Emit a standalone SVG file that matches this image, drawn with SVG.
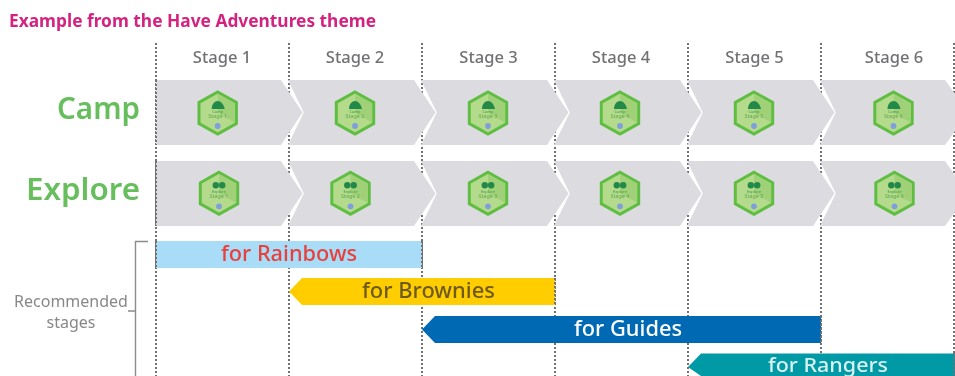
<svg xmlns="http://www.w3.org/2000/svg" width="955" height="376" viewBox="0 0 955 376">
<defs>
<filter id="soft" x="-5%" y="-5%" width="110%" height="110%"><feGaussianBlur stdDeviation="0.5"/></filter>
<g id="badge">
<polygon points="0,-21 18.700,-10.500 18.700,10.500 0,21 -18.700,10.500 -18.700,-10.500" fill="#b4da8c" stroke="#5fbe43" stroke-width="3"/>
<polygon points="0,-19 17,-9.500 17,9.500 0,0" fill="#a0d178"/>
<circle cx="0" cy="13" r="2.900" fill="#7f9fdc"/>
</g>
<path id="tent" d="M-6,-4 C-6,-9 -3,-12 0,-12 C3,-12 6,-9 7,-4 Z" fill="#23894a"/>
<g id="bino"><circle cx="-3.200" cy="-8" r="3.200" fill="#23894a"/><circle cx="3.200" cy="-8" r="3.200" fill="#23894a"/></g>
</defs>
<style>
text{font-family:"Noto Sans","Open Sans","DejaVu Sans",sans-serif}
.grid{stroke:#717171;stroke-width:2;stroke-dasharray:2 2;fill:none}
.arrow{fill:#dcdbe0}
.stage{font-size:16.5px;font-weight:500;fill:#717174;text-anchor:middle}
.row{font-size:31px;font-weight:600;fill:#66bf5c;text-anchor:end}
.bar{font-size:21px;font-weight:500;text-anchor:middle}
.tiny{font-size:4px;fill:#3f9a45;text-anchor:middle}
.tiny2{font-size:5.400px;fill:#63a850;text-anchor:middle}
.rec{font-size:16px;fill:#88888a;text-anchor:middle}
</style>
<g filter="url(#soft)">
<rect width="955" height="376" fill="#fff"/>
<text id="title" x="9" y="27" font-size="17.5" font-weight="700" fill="#d3247f" textLength="367" lengthAdjust="spacingAndGlyphs">Example from the Have Adventures theme</text>
<g id="connectors">
<path class="grid" d="M156 43V376M289 43V376M422 43V376M555 43V376M688 43V376M821 43V376M954 43V376"/>
<path id="bracket" d="M148 241.500H135.500V376M128 311H135.500" fill="none" stroke="#8c8c8c" stroke-width="1.400"/>
</g>
<g id="stages">
<text class="stage" x="222" y="63">Stage 1</text>
<text class="stage" x="355" y="63">Stage 2</text>
<text class="stage" x="488.500" y="63">Stage 3</text>
<text class="stage" x="621" y="63">Stage 4</text>
<text class="stage" x="754.500" y="63">Stage 5</text>
<text class="stage" x="894" y="63">Stage 6</text>
</g>
<text id="camp-label" class="row" x="140" y="119" textLength="83" lengthAdjust="spacingAndGlyphs">Camp</text>
<text id="explore-label" class="row" x="140" y="199.500" textLength="114" lengthAdjust="spacingAndGlyphs">Explore</text>
<g id="camp-row">
<polygon class="arrow" points="156,80 281,80 302.500,112.500 281,145 156,145"/>
<polygon class="arrow" points="288,80 414,80 435.500,112.500 414,145 288,145 303.800,112.500"/>
<polygon class="arrow" points="421,80 547,80 568.500,112.500 547,145 421,145 436.800,112.500"/>
<polygon class="arrow" points="554,80 680,80 701.500,112.500 680,145 554,145 569.800,112.500"/>
<polygon class="arrow" points="687,80 813,80 834.500,112.500 813,145 687,145 702.800,112.500"/>
<polygon class="arrow" points="820,80 945,80 955,94 955,131 945,145 820,145 835.800,112.500"/>
</g>
<g id="explore-row">
<polygon class="arrow" points="156,161 281,161 302.500,193.500 281,226 156,226"/>
<polygon class="arrow" points="288,161 414,161 435.500,193.500 414,226 288,226 303.800,193.500"/>
<polygon class="arrow" points="421,161 547,161 568.500,193.500 547,226 421,226 436.800,193.500"/>
<polygon class="arrow" points="554,161 680,161 701.500,193.500 680,226 554,226 569.800,193.500"/>
<polygon class="arrow" points="687,161 813,161 834.500,193.500 813,226 687,226 702.800,193.500"/>
<polygon class="arrow" points="820,161 945,161 955,175 955,212 945,226 820,226 835.800,193.500"/>
</g>
<path class="grid" d="M156 80V145M156 161V226"/>
<g id="camp-badge-1" transform="translate(217.700,113)"><use href="#badge"/><use href="#tent"/><text class="tiny" y="0">Camp</text><text class="tiny2" y="5">Stage 1</text></g>
<g id="camp-badge-2" transform="translate(355,113)"><use href="#badge"/><use href="#tent"/><text class="tiny" y="0">Camp</text><text class="tiny2" y="5">Stage 2</text></g>
<g id="camp-badge-3" transform="translate(488,113)"><use href="#badge"/><use href="#tent"/><text class="tiny" y="0">Camp</text><text class="tiny2" y="5">Stage 3</text></g>
<g id="camp-badge-4" transform="translate(620,113)"><use href="#badge"/><use href="#tent"/><text class="tiny" y="0">Camp</text><text class="tiny2" y="5">Stage 4</text></g>
<g id="camp-badge-5" transform="translate(754,113)"><use href="#badge"/><use href="#tent"/><text class="tiny" y="0">Camp</text><text class="tiny2" y="5">Stage 5</text></g>
<g id="camp-badge-6" transform="translate(893.500,113)"><use href="#badge"/><use href="#tent"/><text class="tiny" y="0">Camp</text><text class="tiny2" y="5">Stage 6</text></g>
<g id="explore-badge-1" transform="translate(219,193.300)"><use href="#badge"/><use href="#bino"/><text class="tiny" y="0">Explore</text><text class="tiny2" y="5">Stage 1</text></g>
<g id="explore-badge-2" transform="translate(350.500,193.300)"><use href="#badge"/><use href="#bino"/><text class="tiny" y="0">Explore</text><text class="tiny2" y="5">Stage 2</text></g>
<g id="explore-badge-3" transform="translate(488,193.300)"><use href="#badge"/><use href="#bino"/><text class="tiny" y="0">Explore</text><text class="tiny2" y="5">Stage 3</text></g>
<g id="explore-badge-4" transform="translate(620,193.300)"><use href="#badge"/><use href="#bino"/><text class="tiny" y="0">Explore</text><text class="tiny2" y="5">Stage 4</text></g>
<g id="explore-badge-5" transform="translate(754,193.300)"><use href="#badge"/><use href="#bino"/><text class="tiny" y="0">Explore</text><text class="tiny2" y="5">Stage 5</text></g>
<g id="explore-badge-6" transform="translate(894.500,193.300)"><use href="#badge"/><use href="#bino"/><text class="tiny" y="0">Explore</text><text class="tiny2" y="5">Stage 6</text></g>
<g id="rainbows"><rect x="156" y="241" width="266" height="27" fill="#a9dcf6"/><text class="bar" x="289" y="261" fill="#e8413c" textLength="136" lengthAdjust="spacingAndGlyphs">for Rainbows</text></g>
<g id="brownies"><polygon points="289,291.500 302,278 555,278 555,305 302,305" fill="#ffcd00"/><text class="bar" x="428.500" y="298" fill="#6e5a1a" textLength="133" lengthAdjust="spacingAndGlyphs">for Brownies</text></g>
<g id="guides"><polygon points="422,329.500 435,316 821,316 821,343 435,343" fill="#0069b4"/><text class="bar" x="628" y="336" fill="#fff" textLength="108" lengthAdjust="spacingAndGlyphs">for Guides</text></g>
<g id="rangers"><polygon points="688,367 701,353.500 955,353.500 955,376 701,376" fill="#009aa6"/><text class="bar" x="828" y="371.500" fill="#d8f0f0" font-size="20" textLength="120" lengthAdjust="spacingAndGlyphs" style="font-size:20px">for Rangers</text></g>
<path class="grid" d="M156 241V268M422 241V268M821 316V343M555 278V305M954 353V376"/>
<g id="recommended"><text class="rec" x="71" y="307">Recommended</text><text class="rec" x="71" y="328">stages</text></g>
</g>
</svg>
